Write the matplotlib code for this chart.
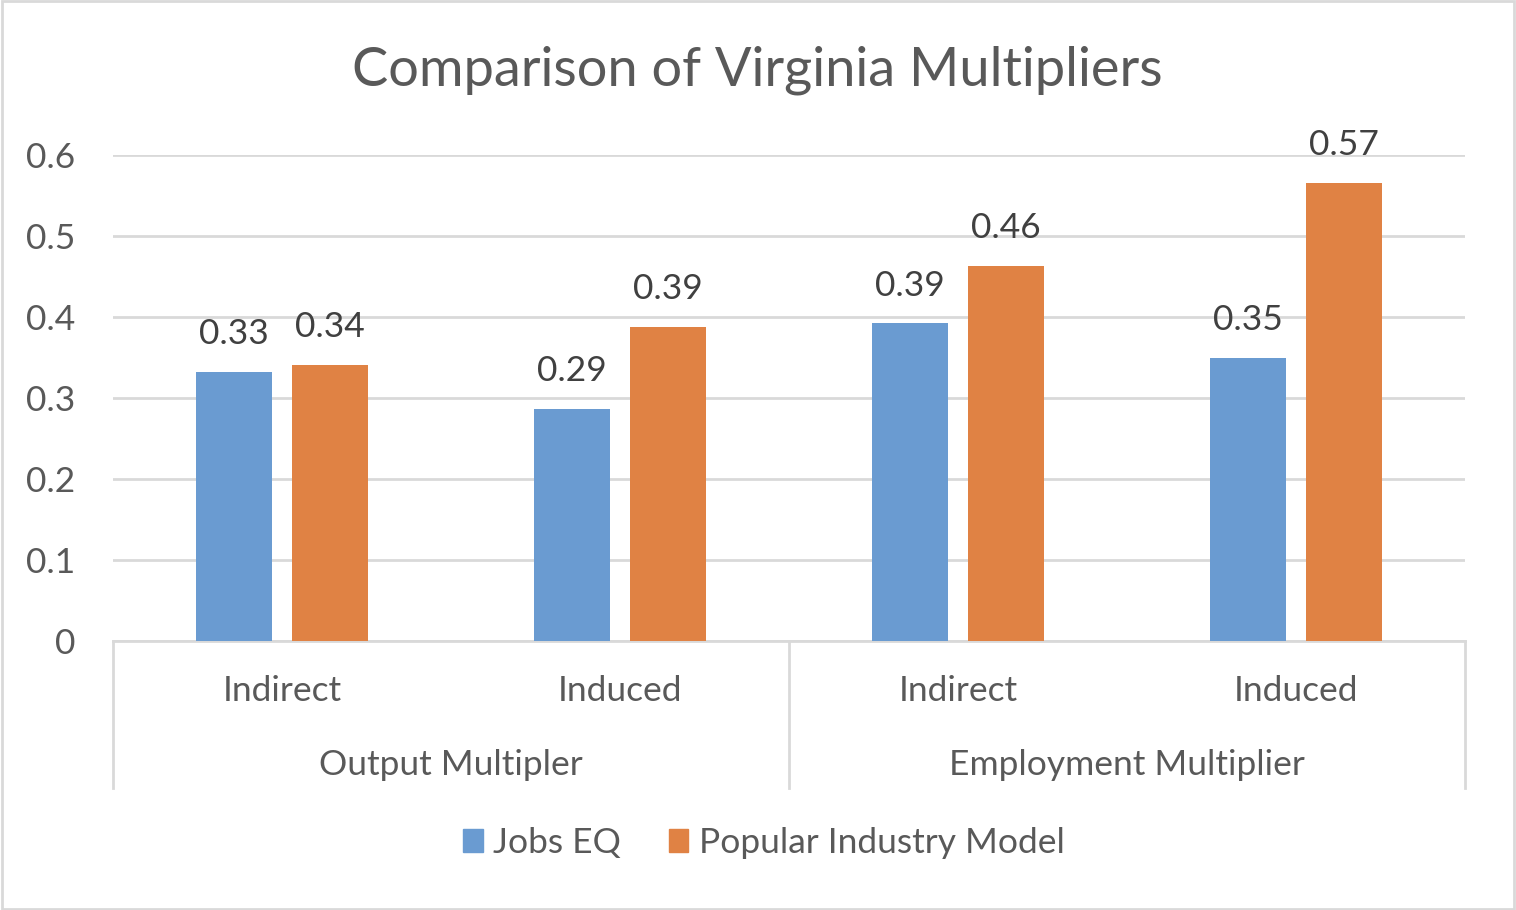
import matplotlib
matplotlib.use("Agg")
import matplotlib.pyplot as plt
from matplotlib.patches import Rectangle, Patch
import matplotlib.transforms as mtransforms
import numpy as np

plt.rcParams['font.family'] = ['Lato', 'DejaVu Sans']

# data
sub_labels = ["Indirect", "Induced", "Indirect", "Induced"]
group_labels = ["Output Multipler", "Employment Multiplier"]
jobs_eq = [0.332, 0.287, 0.392, 0.349]
popular_model = [0.341, 0.388, 0.463, 0.565]
jobs_eq_text = ["0.33", "0.29", "0.39", "0.35"]
popular_text = ["0.34", "0.39", "0.46", "0.57"]
yticks = [0, 0.1, 0.2, 0.3, 0.4, 0.5, 0.6]

blue = "#6A9BD1"
orange = "#E08244"
tick_grey = "#595959"
label_grey = "#404040"
grid_grey = "#D9D9D9"
fs = 25.5

fig = plt.figure(figsize=(15.16, 9.10), dpi=100)
ax = fig.add_axes([113 / 1516, 1 - 641 / 910, 1352 / 1516, 486 / 910])

x = np.arange(len(sub_labels))
w = 0.225
off = 0.142
b1 = ax.bar(x - off, jobs_eq, w, color=blue, zorder=3)
b2 = ax.bar(x + off, popular_model, w, color=orange, zorder=3)

# value labels above the bars
for rect, t in zip(b1, jobs_eq_text):
    ax.text(rect.get_x() + rect.get_width() / 2, rect.get_height() + 0.027, t,
            ha="center", va="bottom", fontsize=fs, color=label_grey)
for rect, t in zip(b2, popular_text):
    ax.text(rect.get_x() + rect.get_width() / 2, rect.get_height() + 0.027, t,
            ha="center", va="bottom", fontsize=fs, color=label_grey)

ax.set_xlim(-0.5, 3.5)
ax.set_ylim(0, 0.6)
ax.set_yticks(yticks)
ax.set_yticklabels(["0" if v == 0 else f"{v:.1f}" for v in yticks])
ax.tick_params(axis="y", length=0, pad=27, labelsize=fs, labelcolor=tick_grey)
ax.tick_params(axis="x", length=0, labelbottom=False)
ax.yaxis.grid(True, color=grid_grey, linewidth=2, zorder=0)
for s in ["top", "right", "left"]:
    ax.spines[s].set_visible(False)
ax.spines["bottom"].set_color(grid_grey)
ax.spines["bottom"].set_linewidth(2)

# two-level category axis
trans = mtransforms.blended_transform_factory(ax.transData, ax.transAxes)
for xs in [-0.5, 1.5, 3.5]:
    ax.plot([xs, xs], [0, -0.302], transform=trans, color=grid_grey,
            linewidth=2, clip_on=False)
for xi, t in zip(x, sub_labels):
    ax.text(xi, -0.103, t, transform=trans, ha="center", va="center",
            fontsize=fs, color=tick_grey)
for gi, t in enumerate(group_labels):
    ax.text(0.5 + 2 * gi, -0.255, t, transform=trans, ha="center", va="center",
            fontsize=fs, color=tick_grey)

fig.text(757 / 1516, 1 - 70 / 910, "Comparison of Virginia Multipliers",
         ha="center", va="center", fontsize=39, color=tick_grey)

handles = [Patch(color=blue), Patch(color=orange)]
fig.legend(handles, ["Jobs EQ", "Popular Industry Model"], loc="center",
           bbox_to_anchor=(764 / 1516, 1 - 843 / 910), ncol=2, frameon=False,
           fontsize=fs, labelcolor=tick_grey, handlelength=0.55,
           handleheight=0.6, handletextpad=0.3, columnspacing=1.35)

fig.patches.append(Rectangle((0.001, 0.001), 0.998, 0.998, transform=fig.transFigure,
                             fill=False, edgecolor=grid_grey, linewidth=2))

fig.savefig("out.png", dpi=100)
